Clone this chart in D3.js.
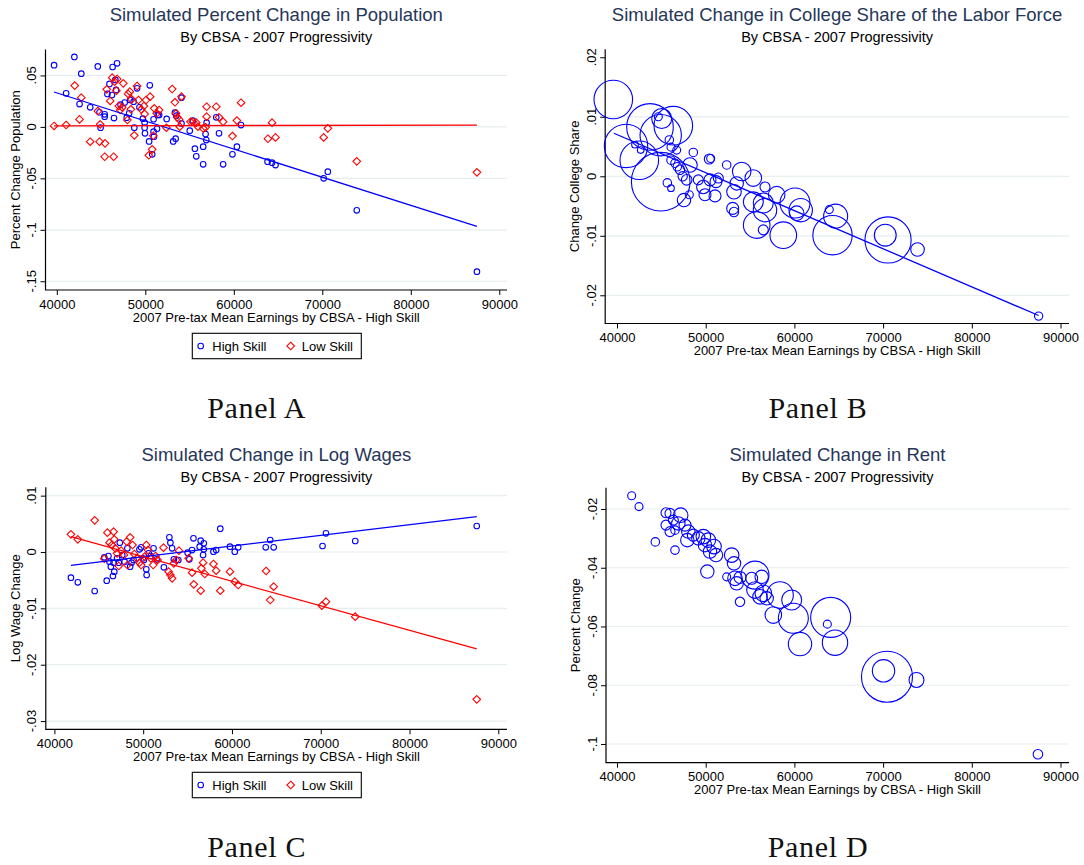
<!DOCTYPE html>
<html><head><meta charset="utf-8">
<script src="https://cdn.jsdelivr.net/npm/d3@7"></script>
<style>
body{margin:0;background:#fff;}
svg{display:block;font-family:"Liberation Sans",Arial,sans-serif;}
</style></head><body>
<svg id="chart" width="1084" height="865"></svg>
<script>
// ---------- DATA ----------
const xTickVals = [40000, 50000, 60000, 70000, 80000, 90000];
const yTicksPop = [-0.15, -0.1, -0.05, 0, 0.05];
const yTicksShare = [-0.02, -0.01, 0, 0.01, 0.02];
const yTicksWage = [-0.03, -0.02, -0.01, 0, 0.01];
const yTicksRent = [-0.1, -0.08, -0.06, -0.04, -0.02];
const legendLabels = ["High Skill", "Low Skill"];

// Panel A: percent change in population [earnings, change]
const popHigh = [[39691,0.060],[41053,0.0326],[41987,0.068],[42765,0.0517],[42570,0.0222],[43776,0.019],[44632,0.0588],[44827,0.0142],[45411,0.0122],[45411,0.0099],[44944,-0.0008],[45955,0.0417],[45722,0.032],[46228,0.031],[46306,0.0582],[46812,0.0618],[46617,0.0456],[46695,0.0359],[46461,0.0086],[47201,0.0216],[47668,0.0236],[48290,0.0262],[48174,0.0132],[47901,0.009],[49068,0.0375],[48679,0.0245],[49341,0.019],[48757,-0.0008],[49730,0.008],[49925,0.0041],[49925,-0.0008],[49964,-0.0063],[50508,0.0404],[50430,-0.0141],[50780,-0.0267],[50936,0.0074],[50936,-0.0047],[50975,-0.0095],[51325,-0.0018],[51403,0.0116],[51559,0.0116],[52415,0.0077],[53154,-0.0141],[53427,-0.0115],[53349,0.0138],[53504,0.0109],[54088,0.0284],[54088,0.0034],[55022,-0.0037],[55372,0.0061],[55605,-0.0212],[55761,-0.0286],[56539,-0.0192],[56539,-0.0364],[56812,-0.0069],[56890,-0.0128],[56929,0.0041],[58018,0.0093],[58329,-0.0063],[58796,-0.0364],[59847,-0.0267],[60353,-0.0192],[60819,0.0018],[63815,-0.0338],[64321,-0.0348],[64710,-0.0371],[70157,-0.05],[70624,-0.0435],[73893,-0.0811],[87472,-0.1407]];
const popLow = [[39691,0.0009],[41053,0.0018],[42025,0.0401],[42570,0.0073],[42765,0.0284],[43776,-0.0144],[44632,0.0154],[44827,-0.0144],[44905,0.0025],[45450,-0.016],[45411,-0.029],[46422,-0.029],[45644,0.0365],[46033,0.0252],[46267,0.0478],[46539,0.0439],[46812,0.0465],[46734,0.0352],[47006,0.0203],[47162,0.0164],[47396,0.019],[47512,0.0423],[47979,0.0067],[48057,0.032],[48251,0.0342],[48446,0.0268],[48368,0.0171],[48757,-0.0082],[49068,0.0397],[49224,0.0261],[49536,0.0171],[49847,0.0203],[50081,0.0261],[49925,0.0125],[50392,-0.0276],[50547,0.0294],[50780,-0.0218],[51014,0.018],[51286,0.0132],[51559,0.0164],[50897,-0.0086],[52376,-0.0008],[53037,0.0368],[53349,0.0239],[53465,0.0132],[53621,0.0093],[53815,0.0073],[54088,0.0294],[53893,0.0002],[55100,0.005],[55372,0.005],[55761,0.0041],[55956,0.0002],[56539,-0.0014],[56812,-0.0004],[56929,0.0196],[56929,0.0099],[58018,0.0196],[58329,0.0093],[58796,0.005],[59847,-0.0089],[60353,0.0061],[60819,0.0235],[63854,-0.0115],[64321,0.0041],[64710,-0.0102],[70157,-0.0102],[70624,-0.0014],[73893,-0.0335],[87472,-0.0442]];
const fitPopHigh = [[39691,0.0339],[87472,-0.0967]];
const fitPopLow = [[39691,0.0010],[87472,0.0017]];

// Panel B: change in college share [earnings, change, cbsa weight]
const shareData = [[39583,0.0129,372],[41015,0.0051,471],[42514,0.0027,372],[43720,0.0083,543],[44927,-0.0009,858],[44927,0.0069,428],[46349,0.0085,372],[45041,0.0097,100],[44660,0.0100,16],[45900,0.0061,18],[46088,0.0049,16],[46730,0.0044,16],[42029,0.0053,11],[42672,0.0044,11],[46088,0.0027,18],[46539,0.0022,18],[46798,0.0016,18],[47103,0.0011,22],[47407,0.0000,22],[45674,-0.0011,18],[46088,-0.0020,11],[47553,-0.0040,45],[48602,0.0040,18],[48230,0.0019,53],[47858,-0.0006,28],[48150,-0.0031,16],[49166,-0.0006,25],[49730,-0.0018,45],[49921,-0.0031,36],[50406,0.0029,25],[50563,0.0030,16],[50485,-0.0006,36],[51161,-0.0009,36],[51420,-0.0003,25],[51048,-0.0033,36],[52367,0.0019,18],[54058,0.0008,86],[53495,-0.0012,45],[53190,-0.0026,53],[53044,-0.0054,36],[53190,-0.0060,22],[55367,-0.0003,69],[55367,-0.0043,100],[55750,-0.0082,177],[56686,-0.0018,25],[56493,-0.0045,100],[56686,-0.0057,137],[56493,-0.0090,25],[58004,-0.0031,69],[58748,-0.0099,177],[60067,-0.0045,225],[60710,-0.0057,137],[60259,-0.0062,53],[63935,-0.0056,16],[64650,-0.0067,144],[64298,-0.0099,388],[70244,-0.0099,119],[70557,-0.0107,534],[73882,-0.0123,46],[87534,-0.0235,17]];
const fitShare = [[39652,0.00723],[87534,-0.0234]];

// Panel C: change in log wages [earnings, change]
const wageHigh = [[41862,-0.00455],[42637,-0.00538],[44537,-0.00692],[45894,-0.00509],[45622,-0.00095],[46087,-0.00071],[46204,-0.00172],[46359,-0.0026],[46592,-0.00426],[46746,-0.00349],[46669,-0.00189],[47057,-0.00112],[47367,0.00166],[47250,-0.00189],[47638,-0.00053],[47909,-0.00172],[48219,0.00065],[48530,-0.0026],[48685,-0.00189],[48917,-0.00142],[49577,0.00047],[49771,0.00083],[49965,-0.00112],[50081,-0.00142],[50352,-0.00308],[50391,-0.00408],[50624,-0.00024],[50856,-0.00071],[51166,0.00065],[51515,-0.0013],[52330,-0.00272],[52950,0.0026],[53066,0.00166],[53260,0.00065],[53453,-0.0013],[53957,-0.00142],[55004,-0.00012],[55198,-0.0013],[55508,0.00035],[55664,0.00243],[56361,0.00095],[56478,0.00201],[56827,0.00154],[56827,0.00047],[56749,-0.00053],[57912,0.00006],[58222,0.00035],[58687,0.00414],[59773,0.00095],[60316,0.00006],[60703,0.00083],[63805,0.00083],[64309,0.00213],[64697,0.00083],[70202,0.00106],[70590,0.00331],[73886,0.00195],[87572,0.00461]];
const wageLow = [[41862,0.00313],[42637,0.00225],[44537,0.00562],[45622,-0.00118],[45971,0.00343],[46204,0.00166],[46475,0.00124],[46669,0.00361],[46746,0.00225],[46863,0.00065],[47057,-0.00024],[47250,-0.00248],[47522,0.00024],[47832,-0.00053],[48142,0.00183],[48219,-0.00231],[48530,0.0026],[48801,0.00124],[48995,-0.00035],[49305,-0.00112],[49577,-0.00189],[49771,-0.00231],[50159,-0.00083],[50352,0.00124],[50546,0.00035],[50856,-0.00112],[51127,-0.00231],[51399,-0.00071],[51631,-0.00142],[52291,0.00077],[52872,-0.00349],[53066,-0.00408],[53260,-0.00467],[53453,-0.00201],[53724,-0.00142],[54034,0.00024],[55120,-0.00112],[55508,-0.00367],[55702,-0.00574],[56478,-0.00686],[56555,-0.0029],[56749,-0.00189],[56943,-0.0039],[57912,-0.00213],[58222,-0.00331],[58687,-0.00686],[59773,-0.00349],[60316,-0.00527],[60703,-0.00586],[63844,-0.00337],[64309,-0.00852],[64697,-0.00615],[70125,-0.00952],[70590,-0.00881],[73886,-0.01147],[87572,-0.02614]];
const fitWageHigh = [[41862,-0.00236],[87572,0.00627]];
const fitWageLow = [[41862,0.00272],[87572,-0.01721]];

// Panel D: percent change in rent [earnings, change, cbsa weight]
const rentData = [[41654,-0.0155,16],[42480,-0.0192,16],[44322,-0.0312,18],[46539,-0.0340,18],[45524,-0.0213,25],[45975,-0.0215,25],[47178,-0.0221,53],[46351,-0.0238,25],[45524,-0.0255,25],[45975,-0.0277,25],[46915,-0.0249,45],[46539,-0.0272,18],[47666,-0.0255,36],[48041,-0.0277,45],[47929,-0.0306,45],[48605,-0.0289,36],[49169,-0.0300,45],[49733,-0.0294,53],[50295,-0.0306,53],[49921,-0.0323,45],[50481,-0.0345,45],[50936,-0.0328,53],[51161,-0.0357,45],[50184,-0.0413,45],[52928,-0.0357,53],[53191,-0.0385,45],[52364,-0.0431,16],[53304,-0.0436,53],[53867,-0.0433,36],[53492,-0.0453,45],[53867,-0.0516,22],[55183,-0.0436,36],[55559,-0.0425,196],[56311,-0.0431,45],[55559,-0.0476,69],[56498,-0.0487,69],[56123,-0.0499,53],[56874,-0.0504,45],[57625,-0.0561,69],[58377,-0.0493,177],[59692,-0.0510,100],[59880,-0.0572,225],[60632,-0.0660,137],[63713,-0.0592,16],[64089,-0.0569,400],[64578,-0.0655,161],[70439,-0.0771,650],[70048,-0.0751,125],[73764,-0.0782,56],[87456,-0.1035,23]];

// ---------- DRAWING ----------
const svg = d3.select("#chart");
const BLUE = "#0000ff", RED = "#ff0000", TITLE = "#263659", GRID = "#e6eef0";
const sizeScale = d3.scaleSqrt().domain([0, 1000]).range([0, Math.sqrt(1000)]);
const fmtY = v => Math.abs(v) < 1e-12 ? "0" : String(+v.toFixed(4)).replace("0.", ".");
const diamond = s => `M0,${-s}L${s},0L0,${s}L${-s},0Z`;

function panel(o) {
  const g = svg.append("g");
  const x = d3.scaleLinear().domain([40000, 90000]).range(o.xr);
  const y = d3.scaleLinear().domain(o.yd).range([o.bottom, o.top]);
  const cx = (o.left + o.right) / 2;
  // gridlines
  g.selectAll("line.grid").data(o.grid).join("line").attr("class", "grid")
    .attr("x1", o.left).attr("x2", o.right)
    .attr("y1", d => y(d)).attr("y2", d => y(d))
    .attr("stroke", GRID).attr("stroke-width", 1.2);
  // y axis
  const ya = g.append("g").attr("transform", `translate(${o.left},0)`)
    .call(d3.axisLeft(y).tickValues(o.yTicks).tickSize(5).tickFormat(() => ""));
  ya.select(".domain").remove();
  ya.selectAll("line").attr("stroke", "#000");
  g.selectAll("text.ylab").data(o.yTicks).join("text").attr("class", "ylab")
    .attr("transform", d => `translate(${o.left - 9.5},${y(d)}) rotate(-90)`)
    .attr("text-anchor", "middle").attr("font-size", 13).attr("fill", "#000")
    .text(fmtY);
  // x axis
  const xa = g.append("g").attr("transform", `translate(0,${o.bottom})`)
    .call(d3.axisBottom(x).tickValues(xTickVals).tickSize(5).tickPadding(4.3).tickFormat(d3.format("d")));
  xa.select(".domain").remove();
  xa.selectAll("line").attr("stroke", "#000");
  xa.selectAll("text").attr("font-size", 13).attr("fill", "#000").attr("font-family", "Liberation Sans, Arial, sans-serif");
  // axis lines
  g.append("path").attr("d", `M${o.left},${o.top}V${o.bottom}H${o.right}`)
    .attr("fill", "none").attr("stroke", "#000").attr("stroke-width", 1.2);
  // titles
  g.append("text").attr("x", cx).attr("y", o.titleY).attr("text-anchor", "middle")
    .attr("font-size", 18.5).attr("fill", TITLE).text(o.title);
  g.append("text").attr("x", cx).attr("y", o.titleY + 21).attr("text-anchor", "middle")
    .attr("font-size", 14.5).attr("fill", "#000").text("By CBSA - 2007 Progressivity");
  g.append("text").attr("x", cx).attr("y", o.bottom + 31.5).attr("text-anchor", "middle")
    .attr("font-size", 13).attr("fill", "#000").text("2007 Pre-tax Mean Earnings by CBSA - High Skill");
  g.append("text").attr("transform", `translate(${o.left - 26},${(o.top + o.bottom) / 2}) rotate(-90)`)
    .attr("text-anchor", "middle").attr("font-size", 13).attr("fill", "#000").text(o.ytitle);
  // caption
  svg.append("text").attr("x", o.capX).attr("y", o.capY).attr("text-anchor", "middle")
    .attr("font-family", "Liberation Serif, Times New Roman, serif").attr("font-size", 30)
    .attr("letter-spacing", 0.7).attr("fill", "#111").text(o.caption);
  return { g, x, y };
}

function fitLine(p, pts, color) {
  p.g.append("path").datum(pts)
    .attr("d", d3.line().x(d => p.x(d[0])).y(d => p.y(d[1])))
    .attr("fill", "none").attr("stroke", color).attr("stroke-width", 1.3);
}
function circles(p, pts, r) {
  p.g.append("g").selectAll("circle").data(pts).join("circle")
    .attr("cx", d => p.x(d[0])).attr("cy", d => p.y(d[1]))
    .attr("r", d => r != null ? r : sizeScale(d[2]))
    .attr("fill", "none").attr("stroke", BLUE).attr("stroke-width", 1.1);
}
function diamonds(p, pts) {
  p.g.append("g").selectAll("path").data(pts).join("path")
    .attr("transform", d => `translate(${p.x(d[0])},${p.y(d[1])})`)
    .attr("d", diamond(3.8))
    .attr("fill", "none").attr("stroke", RED).attr("stroke-width", 1.1);
}
function legend(top) {
  const g = svg.append("g");
  g.append("rect").attr("x", 192.3).attr("y", top).attr("width", 169).attr("height", 25.4)
    .attr("fill", "#fff").attr("stroke", "#000").attr("stroke-width", 1.1);
  g.append("circle").attr("cx", 200.7).attr("cy", top + 12.7).attr("r", 2.8)
    .attr("fill", "none").attr("stroke", BLUE).attr("stroke-width", 1.1);
  g.append("path").attr("transform", `translate(290.7,${top + 12.7})`).attr("d", diamond(3.8))
    .attr("fill", "none").attr("stroke", RED).attr("stroke-width", 1.1);
  g.selectAll("text").data(legendLabels).join("text")
    .attr("x", (d, i) => i === 0 ? 212.3 : 301.7).attr("y", top + 17.4)
    .attr("font-size", 13).attr("fill", "#000").text(d => d);
}

// Panel A
const pA = panel({ left: 45.5, right: 507, top: 49.5, bottom: 290, xr: [56.8, 499.3],
  yd: [-0.1585, 0.0752], yTicks: yTicksPop, grid: yTicksPop, titleY: 20.7,
  title: "Simulated Percent Change in Population", ytitle: "Percent Change Population",
  caption: "Panel A", capX: 256.7, capY: 418.3 });
circles(pA, popHigh, 2.8);
diamonds(pA, popLow);
fitLine(pA, fitPopHigh, BLUE);
fitLine(pA, fitPopLow, RED);
legend(333.3);

// Panel B
const pB = panel({ left: 605.2, right: 1069, top: 49.3, bottom: 323.5, xr: [617, 1060.5],
  yd: [-0.02474, 0.02134], yTicks: yTicksShare, grid: yTicksShare.slice(0, 4), titleY: 20.7,
  title: "Simulated Change in College Share of the Labor Force", ytitle: "Change College Share",
  caption: "Panel B", capX: 818, capY: 418.3 });
circles(pB, shareData);
fitLine(pB, fitShare, BLUE);

// Panel C
const pC = panel({ left: 45.8, right: 507, top: 487.3, bottom: 729.3, xr: [54.4, 498.3],
  yd: [-0.03146, 0.01148], yTicks: yTicksWage, grid: yTicksWage, titleY: 460.7,
  title: "Simulated Change in Log Wages", ytitle: "Log Wage Change",
  caption: "Panel C", capX: 256.7, capY: 857.3 });
circles(pC, wageHigh, 2.8);
diamonds(pC, wageLow);
fitLine(pC, fitWageHigh, BLUE);
fitLine(pC, fitWageLow, RED);
legend(772.3);

// Panel D
const pD = panel({ left: 606, right: 1069, top: 487.7, bottom: 762.7, xr: [617, 1060.5],
  yd: [-0.10637, -0.01275], yTicks: yTicksRent, grid: yTicksRent, titleY: 460.7,
  title: "Simulated Change in Rent", ytitle: "Percent Change",
  caption: "Panel D", capX: 818, capY: 857.3 });
circles(pD, rentData);
</script>
</body></html>
